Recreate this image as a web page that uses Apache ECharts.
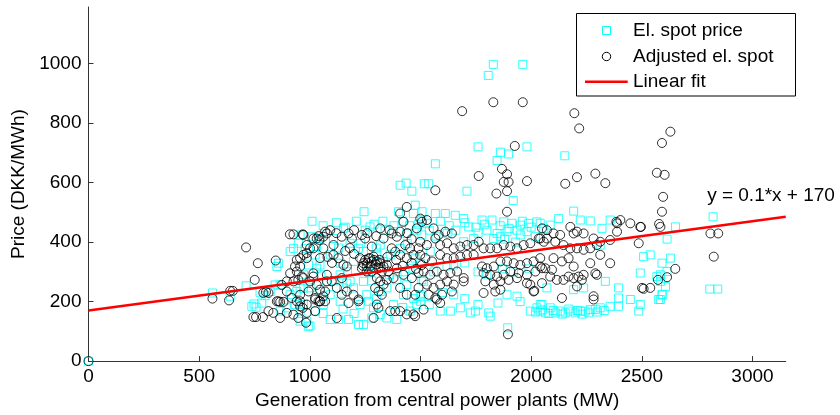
<!DOCTYPE html>
<html>
<head>
<meta charset="utf-8">
<script src="https://cdn.jsdelivr.net/npm/echarts@6/dist/echarts.min.js"></script>
<style>
  html, body { margin: 0; padding: 0; background: #fff; }
  #chart { width: 840px; height: 415px; }
</style>
</head>
<body>
<div id="chart"></div>
<script>
// Axis ranges and tick marks
const xRange = [0, 3150];
const yRange = [0, 1190];
const xTicks = [0, 500, 1000, 1500, 2000, 2500, 3000];
const yTicks = [0, 200, 400, 600, 800, 1000];

// Series names
const seriesNames = ['El. spot price', 'Adjusted el. spot', 'Linear fit'];

// Spot price vs. generation from central power plants [MW, DKK/MWh]
const spotPrice = [
  [0,0],
  [560,229],[640,218],[712,253],[775,231],[798,220],[821,234],[843,256],[866,256],[748,192],[757,181],[783,195],[738,184],
  [851,318],[858,329],[911,368],[926,379],[948,396],[866,168],[896,179],[933,190],[956,134],[911,223],[941,234],[971,245],
  [986,134],[993,117],
  [956,424],[1009,418],[1152,446],[1272,451],[1340,440],[1378,435],[1438,429],[1483,440],[1506,424],[979,379],[1024,357],
  [1046,323],[1092,357],[1220,379],[1242,368],[1303,357],[1363,357],[1476,346],[971,290],[994,323],[1031,312],[1137,290],
  [1167,262],[1182,268],[1242,268],[1265,301],[1393,273],[1438,257],[1506,273],[956,246],[1001,246],[1046,234],[1092,223],
  [1152,246],[1197,246],[1257,223],[1265,201],[1348,246],[1423,223],[1506,218],[971,190],[1061,190],[1137,201],[1288,179],
  [1378,190],[1483,190],[1092,140],[1129,140],[1175,140],[1220,123],[1242,123],[1348,145],[1393,140],[1453,168],[1001,118],
  [1280,145],[956,168],
  [1408,591],[1435,598],[1461,571],[1245,502],[1476,524],[1468,496],[1506,474],[1401,502],[1517,596],
  [1107,412],[1046,412],[1182,396],[1318,390],[1408,379],[1137,329],[1197,335],[1333,335],[1453,312],[1077,268],[1318,234],
  [1227,190],[1318,157],[1024,168],
  [1010,470],[1060,455],[1120,465],[1160,450],[1210,470],[1250,440],[1290,460],[1330,470],[1380,455],[1420,470],[1450,455],
  [1490,460],[1030,385],[1130,380],[1230,395],[1300,380],[1440,395],
  [1050,290],[1110,270],[1170,300],[1280,270],[1360,290],[1430,300],[1060,160],[1150,175],[1200,160],[1300,210],[1420,180],
  [1470,210],
  [1507,502],[1567,496],[1612,496],[1657,490],[1695,479],[1718,451],[1778,474],[1823,474],[1876,468],[1913,463],[1951,457],
  [1989,463],[2026,468],[2057,446],[1529,463],[1800,440],[1846,429],[1891,435],[1936,440],[1981,435],[2019,418],[1544,368],
  [1695,401],[1740,412],[1831,412],[1861,418],[1951,424],[1499,329],[1650,323],[1514,268],[1499,223],[1650,223],[1800,290],
  [1891,223],[1936,218],[1680,179],[1725,162],[1748,168],[1808,162],[1815,151],[1589,168],[1635,168],[1996,168],[2026,179],
  [2049,190],[1499,201],
  [1540,440],[1590,470],[1630,455],[1660,440],[1700,465],[1750,450],[1790,460],[1860,455],[1900,445],[1960,470],[2000,450],
  [1570,420],[1620,430],[1760,430],[1880,410],[1930,400],
  [1560,300],[1620,320],[1700,330],[1760,300],[1870,310],[1920,300],[1990,310],[1540,190],[1600,230],[1700,210],[1760,190],
  [1850,195],[1950,200],
  [1567,663],[1537,596],[1710,571],[1846,674],[1861,702],[1898,696],[1919,540],[1760,720],[1981,720],[1894,112],
  [1806,960],[1829,997],[1962,997],
  [2152,690],[2192,504],[2124,479],[2222,474],[2267,471],[2357,474],[2320,446],[2041,463],[2086,457],[2312,390],[2508,351],
  [2538,357],[2591,329],[2493,296],[2568,284],[2584,268],[2071,246],[2192,240],[2237,246],[2335,268],[2395,246],[2591,223],
  [2576,207],[2041,190],[2086,179],[2131,168],[2177,168],[2222,168],[2267,173],[2312,179],[2357,184],[2395,212],[2448,207],
  [2493,190],[2486,168],[2041,168],[2064,162],[2109,162],[2154,162],[2199,162],[2244,168],[2290,173],
  [2020,165],[2050,172],[2080,160],[2100,170],[2140,158],[2170,175],[2210,170],[2230,158],[2260,162],[2300,165],[2330,170],
  [2614,301],[2395,184],[2584,290],
  [2822,485],[2652,451],[2614,410],[2629,346],[2607,251],[2592,223],[2584,207],[2807,242],[2843,242]
];

// Adjusted spot price vs. generation [MW, DKK/MWh]
const adjustedSpot = [
  [0,0],
  [712,382],[765,329],[846,338],[751,273],[640,236],[652,236],[560,210],[635,204],[910,426],[926,426],[968,426],
  [745,148],[757,148],[788,148],[813,168],[835,162],[866,145],[896,162],[926,156],[948,145],[802,232],[813,229],
  [858,201],[866,199],[881,199],[911,295],[933,318],[941,340],[956,346],[896,234],[918,212],[941,201],[956,184],
  [968,179],[873,256],[896,268],[926,268],[948,273],[964,284],
  [986,162],[1024,168],[790,229],[851,201],[1024,212],[1046,201],[1069,201],[986,390],[1016,412],[1043,407],
  [1061,418],[1077,429],[941,301],[971,357],[986,363],[1001,379],[1031,256],[1046,240],[1069,234],[1016,295],[1077,268],
  [971,424],[1031,412],[1069,435],[1092,440],[1061,379],[1107,390],[1144,418],[1175,429],[1190,412],[1235,424],[1250,412],
  [1280,385],[1318,446],[1333,412],[1370,429],[1393,418],[1408,435],[1431,390],[1453,379],[1483,446],[1506,468],[1408,496],
  [1423,468],[1438,518],
  [956,318],[986,346],[1016,379],[1046,346],[1107,357],[1129,346],[1152,323],[1167,318],[1227,346],[1242,329],[1257,318],
  [1272,346],[1288,351],[1303,335],[1318,329],[1333,318],[1348,323],[1370,379],[1386,368],[1408,357],[1438,346],[1468,357],
  [1491,379],[1506,323],[1144,279],[1235,312],[1257,301],[1280,301],[1310,312],[1325,301],[1355,301],[1393,312],[1423,290],
  [1461,279],[1491,296],
  [971,279],[1001,268],[1016,284],[1077,290],[1099,268],[1122,246],[1144,223],[1167,234],[1197,223],[1220,207],[1303,279],
  [1318,268],[1333,257],[1295,246],[1310,234],[1325,223],[1348,273],[1378,279],[1408,246],[1438,223],[1476,223],[1491,246],
  [956,223],[994,234],[1024,207],[1046,201],[1061,218],
  [956,201],[986,190],[1039,201],[1122,145],[1175,195],[1220,201],[1303,190],[1310,179],[1363,168],[1386,168],[1408,168],
  [1438,157],[1468,157],[1476,151],[1288,145],[983,129],
  [1260,330],[1275,320],[1290,340],[1300,325],[1315,340],[1265,345],[1280,335],[1320,315],[1250,340],[1240,320],
  [1040,420],[1120,430],[1200,440],[1260,430],[1300,420],[1360,440],[1440,430],[1460,410],[1180,380],[1200,360],[1160,370],
  [1100,330],[1080,350],[1460,330],[1480,310],[1350,350],[1390,340],[1420,320],
  [1499,479],[1529,474],[1559,446],[1582,424],[1612,435],[1642,429],[1499,401],[1529,390],[1567,412],[1589,390],[1620,396],
  [1650,379],[1680,385],[1710,390],[1740,390],[1763,401],[1785,379],[1815,379],[1846,379],[1876,390],[1906,385],[1936,379],
  [1966,390],[1996,396],[2034,412],[2057,401],[1499,357],[1522,346],[1552,335],[1589,357],[1620,346],[1650,346],[1680,351],
  [1710,357],[1740,357],[1778,318],[1800,312],[1831,318],[1861,335],[1891,335],[1921,329],[1951,323],[1981,329],[2011,335],
  [2041,346],[1514,301],[1544,290],[1574,301],[1604,290],[1635,296],[1665,301],[1695,279],[1785,296],[1815,290],[1846,284],
  [1876,290],[1906,301],[1944,296],[1981,290],[2019,301],[2049,312],[1529,257],[1559,246],[1589,257],[1620,268],[1650,257],
  [1695,268],[1793,268],[1831,257],[1861,268],[1898,273],[1936,279],[1981,262],[1996,257],[1537,223],[1567,212],[1597,223],
  [1642,234],[1785,229],[1838,234],[1861,240],[2011,234],[1514,173],[1574,207],[1589,195],
  [1763,622],[1567,574],[1843,563],[1868,646],[1891,628],[1898,602],[1876,602],[1891,571],[1981,605],[1891,502],[1895,90],
  [1688,840],[1829,870],[1962,870],[1926,723],
  [2154,596],[2207,618],[2290,630],[2335,598],[2568,633],[2603,626],[2596,552],[2591,502],[2578,461],[2584,451],[2493,451],
  [2448,463],[2403,474],[2388,463],[2388,435],[2357,407],[2312,401],[2282,412],[2237,429],[2177,451],[2192,429],[2131,424],
  [2101,429],[2071,440],[2049,446],[2041,412],[2071,412],[2109,401],[2146,390],[2177,379],[2207,379],[2237,374],[2267,379],
  [2297,390],[2312,357],[2267,329],[2357,329],[2101,346],[2041,318],[2064,312],[2094,307],[2139,335],[2169,346],[2192,318],
  [2086,284],[2116,273],[2146,273],[2169,284],[2192,279],[2214,284],[2237,290],[2297,290],[2486,396],[2501,246],[2538,246],
  [2139,212],[2282,218],[2282,207],[2049,262],[2195,833],[2217,782],[2591,733],[2629,771],[2810,429],[2845,429],[2825,351],
  [2385,468],[2496,451],[2651,310],[2614,282],[2508,243],[2573,273],[2290,295],[2207,251],[2229,273],[2014,236],[2207,435]
];

// Least-squares fit of the adjusted price
const fitSlope = 0.1;
const fitIntercept = 170;
const fitLine = xRange.map(x => [x, fitSlope * x + fitIntercept]);
const fitLabelAt = [2795, 554];
const fitText = 'y = ' + fitSlope + '*x + ' + fitIntercept;

const FONT = 'Liberation Sans, Arial, Helvetica, sans-serif';
const AXIS_COLOR = '#333333';

const chart = echarts.init(document.getElementById('chart'), null, { renderer: 'canvas' });

function valueAxis(range, ticks, name, nameGap, labelMargin) {
  return {
    type: 'value',
    min: range[0],
    max: range[1],
    name: name,
    nameLocation: 'middle',
    nameGap: nameGap,
    nameTextStyle: { color: '#000', fontSize: 19, fontFamily: FONT },
    splitLine: { show: false },
    axisLine: { show: true, onZero: false, lineStyle: { color: AXIS_COLOR, width: 1 } },
    axisTick: { show: true, inside: true, length: 5, customValues: ticks,
      lineStyle: { color: AXIS_COLOR, width: 1 } },
    axisLabel: { customValues: ticks, color: '#000', fontSize: 19, fontFamily: FONT,
      margin: labelMargin, formatter: v => String(v) }
  };
}

chart.setOption({
  animation: false,
  backgroundColor: '#fff',
  grid: { left: 88.5, right: 54.3, top: 7, bottom: 51.5, containLabel: false },
  xAxis: valueAxis(xRange, xTicks, 'Generation from central power plants (MW)', 27, 6),
  yAxis: valueAxis(yRange, yTicks, 'Price (DKK/MWh)', 51, 7),
  series: [
    {
      name: seriesNames[0],
      type: 'scatter',
      data: spotPrice,
      symbol: 'rect',
      symbolSize: 8,
      clip: false,
      silent: true,
      itemStyle: { color: 'rgba(0,0,0,0)', borderColor: '#00ffff', borderWidth: 1 }
    },
    {
      name: seriesNames[1],
      type: 'scatter',
      data: adjustedSpot,
      symbol: 'circle',
      symbolSize: 9,
      clip: false,
      silent: true,
      itemStyle: { color: 'rgba(0,0,0,0)', borderColor: '#000000', borderWidth: 1 }
    },
    {
      name: seriesNames[2],
      type: 'line',
      data: fitLine,
      showSymbol: false,
      silent: true,
      lineStyle: { color: '#ff0000', width: 2.5 },
      markPoint: {
        silent: true,
        symbol: 'circle',
        symbolSize: 0,
        data: [{ coord: fitLabelAt }],
        label: {
          show: true,
          position: 'right',
          distance: 0,
          formatter: fitText,
          color: '#000',
          fontSize: 19,
          fontFamily: FONT
        }
      }
    }
  ],
  graphic: [
    { type: 'rect', z: 100, shape: { x: 576.5, y: 13.5, width: 219, height: 82.5 },
      style: { fill: '#fff', stroke: '#000', lineWidth: 1 } },
    { type: 'rect', z: 101, shape: { x: 602.5, y: 26.5, width: 8, height: 8 },
      style: { fill: 'none', stroke: '#00ffff', lineWidth: 1 } },
    { type: 'circle', z: 101, shape: { cx: 606.5, cy: 56.5, r: 4.2 },
      style: { fill: 'none', stroke: '#000', lineWidth: 1 } },
    { type: 'line', z: 101, shape: { x1: 585, y1: 81.7, x2: 627.7, y2: 81.7 },
      style: { stroke: '#ff0000', lineWidth: 2.5 } },
    { type: 'text', z: 101, x: 633, y: 30.5,
      style: { text: seriesNames[0], fill: '#000', fontSize: 19, fontFamily: FONT, verticalAlign: 'middle' } },
    { type: 'text', z: 101, x: 633, y: 56.5,
      style: { text: seriesNames[1], fill: '#000', fontSize: 19, fontFamily: FONT, verticalAlign: 'middle' } },
    { type: 'text', z: 101, x: 633, y: 82,
      style: { text: seriesNames[2], fill: '#000', fontSize: 19, fontFamily: FONT, verticalAlign: 'middle' } }
  ]
});
</script>
</body>
</html>
